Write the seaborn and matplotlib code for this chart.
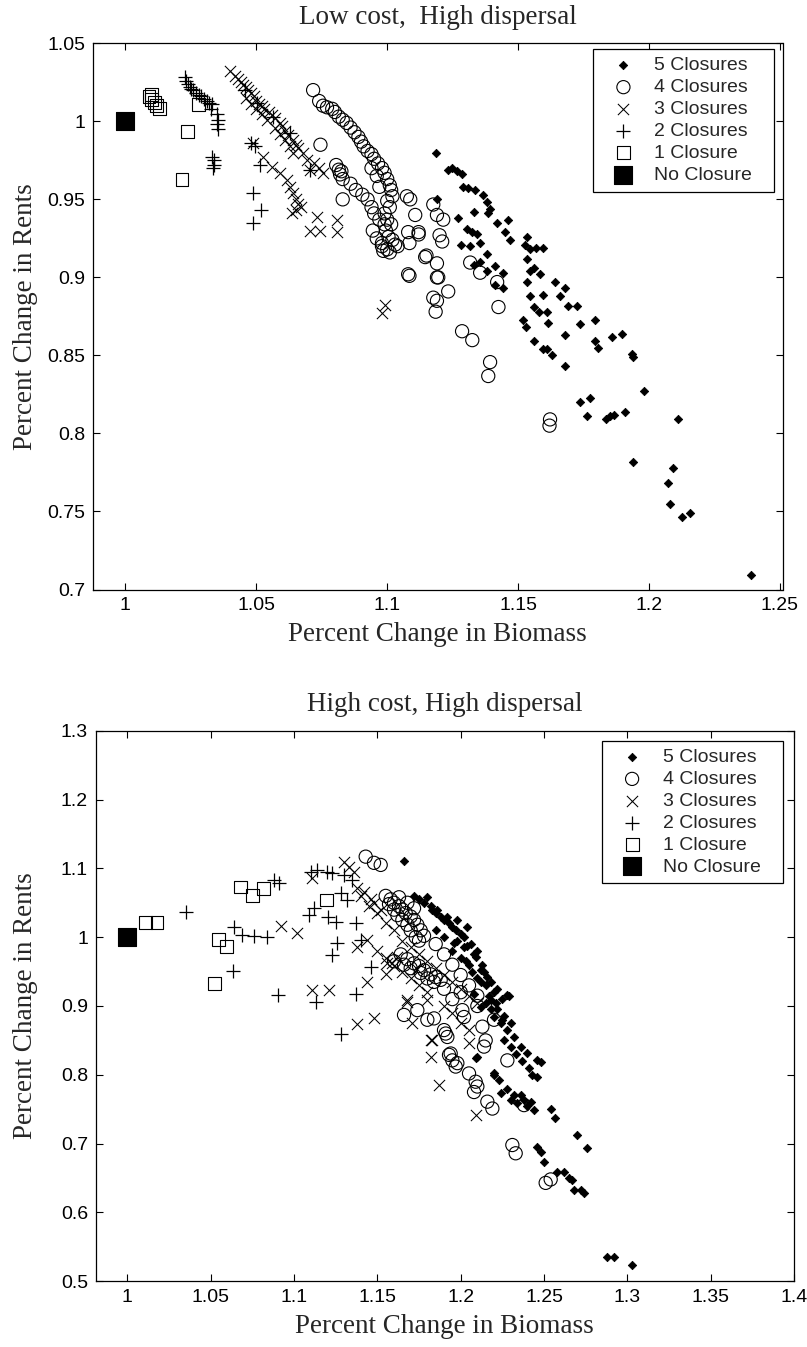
import matplotlib
matplotlib.use("Agg")
import matplotlib.pyplot as plt
import numpy as np
import pandas as pd
import seaborn as sns

# ---- top panel: Low cost, High dispersal (biomass, rents) ----
low_5 = [(1.1187, 0.980), (1.1233, 0.969), (1.119, 0.950), (1.1248, 0.970), (1.1268, 0.968),
         (1.1287, 0.966), (1.129, 0.958), (1.131, 0.957), (1.1336, 0.956), (1.1367, 0.953),
         (1.138, 0.948), (1.1393, 0.944), (1.1385, 0.941), (1.127, 0.938), (1.133, 0.942),
         (1.1305, 0.9307), (1.1325, 0.929), (1.1343, 0.9275), (1.128, 0.921), (1.142, 0.935),
         (1.146, 0.937), (1.145, 0.929), (1.147, 0.924), (1.1317, 0.920), (1.1355, 0.922),
         (1.138, 0.915), (1.141, 0.907), (1.133, 0.908), (1.1355, 0.910), (1.138, 0.904),
         (1.1443, 0.903), (1.141, 0.895), (1.1443, 0.893), (1.1535, 0.926), (1.1525, 0.921),
         (1.1545, 0.918), (1.157, 0.919), (1.1597, 0.919), (1.1535, 0.912), (1.1545, 0.904),
         (1.156, 0.906), (1.1585, 0.902), (1.1535, 0.897), (1.1547, 0.888), (1.1597, 0.889),
         (1.164, 0.897), (1.168, 0.893), (1.166, 0.888), (1.156, 0.881), (1.158, 0.878),
         (1.161, 0.878), (1.169, 0.8815), (1.1725, 0.8815), (1.152, 0.873), (1.153, 0.868),
         (1.156, 0.859), (1.1615, 0.871), (1.1737, 0.870), (1.1794, 0.873), (1.1597, 0.854),
         (1.161, 0.854), (1.163, 0.850), (1.168, 0.863), (1.168, 0.843), (1.1794, 0.859),
         (1.1805, 0.855), (1.186, 0.862), (1.1897, 0.864), (1.1936, 0.851), (1.194, 0.849),
         (1.1737, 0.820), (1.1775, 0.823), (1.1763, 0.811), (1.1837, 0.809), (1.185, 0.811),
         (1.1865, 0.812), (1.191, 0.814), (1.1982, 0.827), (1.211, 0.809), (1.194, 0.782),
         (1.209, 0.778), (1.2074, 0.768), (1.208, 0.755), (1.2126, 0.7467), (1.2157, 0.749),
         (1.239, 0.709)]
low_4 = [(1.0717, 1.020), (1.074, 1.013), (1.0755, 1.010), (1.077, 1.009), (1.079, 1.008),
         (1.080, 1.006), (1.0815, 1.003), (1.083, 1.001), (1.0845, 0.999), (1.086, 0.996),
         (1.0875, 0.993), (1.089, 0.990), (1.090, 0.987), (1.091, 0.984), (1.0925, 0.981),
         (1.094, 0.979), (1.095, 0.976), (1.0965, 0.973), (1.098, 0.970), (1.099, 0.967),
         (1.100, 0.963), (1.101, 0.959), (1.1015, 0.956), (1.102, 0.952), (1.100, 0.949),
         (1.101, 0.945), (1.099, 0.941), (1.100, 0.937), (1.1015, 0.934), (1.0995, 0.930),
         (1.1005, 0.926), (1.098, 0.922), (1.100, 0.918), (1.096, 0.965), (1.094, 0.970),
         (1.097, 0.958), (1.0745, 0.985), (1.0805, 0.972), (1.0815, 0.969), (1.082, 0.966),
         (1.083, 0.963), (1.0825, 0.968), (1.083, 0.950), (1.086, 0.960), (1.088, 0.956),
         (1.0905, 0.953), (1.0925, 0.950), (1.094, 0.945), (1.095, 0.941), (1.097, 0.937),
         (1.099, 0.934), (1.0945, 0.930), (1.096, 0.925), (1.098, 0.920), (1.0985, 0.917),
         (1.101, 0.916), (1.103, 0.921), (1.1088, 0.950), (1.112, 0.929), (1.115, 0.914),
         (1.119, 0.909), (1.108, 0.902), (1.119, 0.900), (1.1075, 0.952), (1.1107, 0.940),
         (1.112, 0.9275), (1.108, 0.929), (1.1085, 0.922), (1.102, 0.924), (1.104, 0.920),
         (1.1176, 0.9467), (1.119, 0.940), (1.1214, 0.937), (1.120, 0.927), (1.121, 0.923),
         (1.1145, 0.913), (1.1085, 0.901), (1.1195, 0.900), (1.1233, 0.891), (1.1176, 0.887),
         (1.119, 0.885), (1.1185, 0.878), (1.1286, 0.8655), (1.1325, 0.8598), (1.1393, 0.8457),
         (1.1386, 0.8368), (1.1622, 0.809), (1.162, 0.805), (1.1317, 0.9095), (1.1355, 0.903),
         (1.142, 0.897), (1.1425, 0.881)]
low_3 = [(1.040, 1.032), (1.042, 1.029), (1.043, 1.027), (1.044, 1.025), (1.045, 1.023),
         (1.046, 1.022), (1.047, 1.020), (1.048, 1.018), (1.049, 1.016), (1.050, 1.013),
         (1.051, 1.011), (1.052, 1.010), (1.053, 1.008), (1.055, 1.006), (1.056, 1.004),
         (1.057, 1.002), (1.059, 0.999), (1.060, 0.997), (1.061, 0.994), (1.062, 0.991),
         (1.064, 0.988), (1.065, 0.985), (1.066, 0.983), (1.068, 0.980), (1.0695, 0.975),
         (1.0706, 0.969), (1.072, 0.973), (1.074, 0.970), (1.046, 1.015), (1.048, 1.011),
         (1.050, 1.008), (1.052, 1.005), (1.054, 1.001), (1.057, 0.996), (1.059, 0.992),
         (1.061, 0.988), (1.063, 0.984), (1.064, 0.980), (1.0488, 0.986), (1.0527, 0.977),
         (1.056, 0.971), (1.059, 0.967), (1.0618, 0.9626), (1.063, 0.958), (1.064, 0.954),
         (1.065, 0.950), (1.066, 0.947), (1.067, 0.945), (1.065, 0.943), (1.0635, 0.941),
         (1.073, 0.939), (1.0706, 0.930), (1.0744, 0.930), (1.081, 0.937), (1.081, 0.929),
         (1.0755, 0.967), (1.098, 0.877), (1.099, 0.882)]
low_2 = [(1.0228, 1.0285), (1.0232, 1.026), (1.024, 1.024), (1.0245, 1.022), (1.025, 1.021),
         (1.026, 1.020), (1.027, 1.018), (1.028, 1.017), (1.029, 1.016), (1.030, 1.014),
         (1.031, 1.013), (1.032, 1.012), (1.033, 1.011), (1.0325, 1.008), (1.035, 1.005),
         (1.0355, 1.001), (1.035, 0.998), (1.0355, 0.995), (1.033, 0.977), (1.034, 0.975),
         (1.034, 0.972), (1.0335, 0.970), (1.048, 0.986), (1.0495, 0.984), (1.0515, 0.972),
         (1.0488, 0.954), (1.0517, 0.9435), (1.0488, 0.935), (1.0458, 1.020), (1.0503, 1.0118),
         (1.0565, 1.003), (1.063, 0.9926), (1.0706, 0.969)]
low_1 = [(1.009, 1.016), (1.010, 1.014), (1.011, 1.012), (1.012, 1.010), (1.013, 1.008),
         (1.010, 1.017), (1.028, 1.011), (1.0236, 0.9935), (1.0216, 0.9627)]
low_0 = [(1.0, 1.0)]

# ---- bottom panel: High cost, High dispersal ----
high_5 = [(1.166, 1.111), (1.180, 1.058), (1.178, 1.050), (1.182, 1.045), (1.186, 1.039),
          (1.185, 1.035), (1.192, 1.030), (1.190, 1.025), (1.198, 1.025), (1.195, 1.015),
          (1.204, 1.015), (1.200, 1.005), (1.190, 1.000), (1.185, 1.010), (1.196, 0.991),
          (1.204, 0.987), (1.195, 0.980), (1.200, 0.970), (1.209, 0.971), (1.205, 0.960),
          (1.212, 0.952), (1.214, 0.950), (1.210, 0.940), (1.216, 0.942), (1.215, 0.930),
          (1.220, 0.920), (1.228, 0.916), (1.229, 0.914), (1.215, 0.905), (1.212, 0.899),
          (1.218, 0.909), (1.222, 0.895), (1.220, 0.884), (1.226, 0.885), (1.224, 0.875),
          (1.230, 0.875), (1.228, 0.865), (1.232, 0.855), (1.236, 0.841), (1.240, 0.831),
          (1.246, 0.822), (1.248, 0.818), (1.246, 0.797), (1.209, 0.824), (1.220, 0.802),
          (1.223, 0.792), (1.224, 0.773), (1.230, 0.763), (1.234, 0.759), (1.238, 0.763),
          (1.240, 0.754), (1.244, 0.749), (1.254, 0.751), (1.2565, 0.737), (1.270, 0.713),
          (1.276, 0.693), (1.246, 0.695), (1.248, 0.688), (1.250, 0.674), (1.258, 0.659),
          (1.262, 0.659), (1.265, 0.650), (1.267, 0.647), (1.268, 0.633), (1.272, 0.633),
          (1.274, 0.628), (1.288, 0.536), (1.292, 0.536), (1.303, 0.524), (1.210, 0.826),
          (1.220, 0.800), (1.208, 0.918), (1.218, 0.895), (1.225, 0.880), (1.172, 1.060),
          (1.175, 1.055), (1.183, 1.040), (1.188, 1.030), (1.193, 1.020), (1.197, 1.010),
          (1.202, 1.000), (1.206, 0.990), (1.210, 0.980), (1.213, 0.960), (1.218, 0.935),
          (1.222, 0.925), (1.225, 0.910), (1.203, 0.965), (1.207, 0.950), (1.212, 0.935),
          (1.226, 0.850), (1.230, 0.840), (1.233, 0.830), (1.237, 0.820), (1.241, 0.810),
          (1.243, 0.800), (1.228, 0.780), (1.232, 0.770), (1.236, 0.770), (1.242, 0.760),
          (1.198, 0.995), (1.202, 0.985), (1.208, 0.975), (1.217, 0.915), (1.221, 0.905)]
high_4 = [(1.143, 1.117), (1.148, 1.108), (1.152, 1.105), (1.155, 1.060), (1.158, 1.055),
          (1.160, 1.050), (1.163, 1.045), (1.165, 1.040), (1.167, 1.035), (1.170, 1.030),
          (1.172, 1.025), (1.174, 1.018), (1.176, 1.010), (1.178, 1.002), (1.160, 1.040),
          (1.162, 1.032), (1.165, 1.025), (1.168, 1.018), (1.170, 1.010), (1.173, 1.000),
          (1.175, 0.995), (1.157, 1.048), (1.163, 1.058), (1.168, 1.050), (1.172, 1.042),
          (1.164, 0.975), (1.168, 0.968), (1.172, 0.962), (1.175, 0.958), (1.178, 0.952),
          (1.182, 0.946), (1.185, 0.942), (1.188, 0.938), (1.170, 0.955), (1.176, 0.948),
          (1.180, 0.940), (1.184, 0.935), (1.160, 0.965), (1.166, 0.960), (1.185, 0.990),
          (1.190, 0.975), (1.195, 0.960), (1.200, 0.945), (1.205, 0.930), (1.210, 0.915),
          (1.200, 0.920), (1.210, 0.900), (1.220, 0.880), (1.190, 0.925), (1.195, 0.910),
          (1.166, 0.887), (1.174, 0.894), (1.180, 0.880), (1.184, 0.882), (1.190, 0.865),
          (1.192, 0.855), (1.194, 0.831), (1.198, 0.817), (1.191, 0.860), (1.193, 0.829),
          (1.195, 0.821), (1.197, 0.812), (1.205, 0.802), (1.209, 0.790), (1.208, 0.775),
          (1.210, 0.783), (1.216, 0.761), (1.219, 0.751), (1.231, 0.698), (1.233, 0.686),
          (1.251, 0.643), (1.254, 0.648), (1.202, 0.884), (1.201, 0.894), (1.213, 0.870),
          (1.215, 0.850), (1.214, 0.841), (1.228, 0.821), (1.238, 0.756)]
high_3 = [(1.0919, 1.016), (1.1019, 1.0063), (1.111, 0.923), (1.121, 0.923), (1.138, 0.874),
          (1.148, 0.883), (1.111, 1.0853), (1.130, 1.109), (1.133, 1.102), (1.136, 1.095),
          (1.138, 1.071), (1.138, 0.986), (1.144, 0.996), (1.144, 0.935), (1.155, 0.947),
          (1.159, 0.962), (1.168, 0.906), (1.171, 0.875), (1.182, 0.850), (1.182, 0.826),
          (1.205, 0.846), (1.183, 0.850), (1.187, 0.785), (1.209, 0.741), (1.168, 0.909),
          (1.156, 0.962), (1.162, 0.971), (1.174, 0.954), (1.180, 0.909), (1.140, 1.060),
          (1.145, 1.045), (1.150, 1.035), (1.155, 1.020), (1.160, 1.010), (1.165, 0.995),
          (1.170, 0.985), (1.175, 0.975), (1.180, 0.965), (1.185, 0.955), (1.190, 0.945),
          (1.195, 0.935), (1.200, 0.925), (1.205, 0.915), (1.210, 0.905), (1.150, 0.980),
          (1.155, 0.970), (1.160, 0.958), (1.165, 0.950), (1.170, 0.940), (1.175, 0.930),
          (1.180, 0.920), (1.190, 0.900), (1.195, 0.890), (1.200, 0.875), (1.205, 0.865),
          (1.142, 1.065), (1.146, 1.055), (1.148, 1.050), (1.152, 1.040)]
high_2 = [(1.0352, 1.0368), (1.0639, 1.015), (1.0689, 1.003), (1.0759, 1.0015), (1.0839, 1.0005),
          (1.0635, 0.951), (1.0905, 0.916), (1.0879, 1.083), (1.0909, 1.078), (1.110, 1.095),
          (1.114, 1.097), (1.120, 1.095), (1.123, 1.093), (1.130, 1.090), (1.135, 1.083),
          (1.1089, 1.032), (1.1122, 1.042), (1.1203, 1.0296), (1.1249, 1.0223), (1.126, 0.991),
          (1.123, 0.974), (1.137, 1.020), (1.146, 0.957), (1.137, 0.918), (1.113, 0.906),
          (1.128, 0.860), (1.140, 0.996), (1.128, 1.0636), (1.132, 1.054)]
high_1 = [(1.0108, 1.021), (1.0178, 1.021), (1.0679, 1.073), (1.0749, 1.061), (1.0815, 1.071),
          (1.0548, 0.9966), (1.0595, 0.986), (1.0524, 0.933), (1.1195, 1.054)]
high_0 = [(1.0, 1.0)]

labels = ["5 Closures", "4 Closures", "3 Closures", "2 Closures", "1 Closure", "No Closure"]

marker_styles = [
    dict(marker="D", s=18, color="black", edgecolor="black", linewidth=0.6),
    dict(marker="o", s=90, facecolor="none", edgecolor="black", linewidth=0.8),
    dict(marker="x", s=65, color="black", linewidth=0.75),
    dict(marker="+", s=95, color="black", linewidth=0.9),
    dict(marker="s", s=85, facecolor="none", edgecolor="black", linewidth=0.8),
    dict(marker="s", s=165, color="black", edgecolor="black", linewidth=0.8),
]

sns.set_style("ticks")
plt.rcParams["font.family"] = ["Liberation Sans", "DejaVu Sans"]
serif = ["Liberation Serif", "DejaVu Serif"]

W, H = 807, 1347
fig = plt.figure(figsize=(W / 100, H / 100), dpi=100)


def draw_panel(rect, series, title, xlim, ylim, xticks, yticks, legend_box, ylab_x, xlab_y):
    ax = fig.add_axes(rect)
    for pts, lab, style in zip(series, labels, marker_styles):
        df = pd.DataFrame(pts, columns=["biomass", "rents"])
        sns.scatterplot(data=df, x="biomass", y="rents", ax=ax, label=lab, legend=False, **style)
    ax.set_xlim(*xlim)
    ax.set_ylim(*ylim)
    ax.set_xticks(xticks)
    ax.set_yticks(yticks)
    ax.set_xticklabels([f"{t:g}" for t in xticks])
    ax.set_yticklabels([f"{t:g}" for t in yticks])
    ax.tick_params(direction="in", length=5, width=0.8, top=True, right=True,
                   labelsize=14, pad=5.5, colors="black")
    for sp in ax.spines.values():
        sp.set_visible(True)
        sp.set_linewidth(0.9)
        sp.set_color("black")
    ax.set_title(title, family=serif, fontsize=19.5, pad=14)
    ax.set_xlabel("Percent Change in Biomass", family=serif, fontsize=19.5)
    ax.set_ylabel("Percent Change in Rents", family=serif, fontsize=19.5)
    ax.xaxis.set_label_coords(0.5, xlab_y)
    ax.yaxis.set_label_coords(ylab_x, 0.5)
    handles, labs = ax.get_legend_handles_labels()
    leg = ax.legend(handles, labs, loc="upper left", bbox_to_anchor=legend_box, mode="expand",
                    borderaxespad=0, fontsize=14, borderpad=0.4, handlelength=2.3,
                    handletextpad=0.42, labelspacing=0.22, scatterpoints=1,
                    fancybox=False, framealpha=1, edgecolor="black")
    leg.get_frame().set_linewidth(0.9)
    return ax


def px_rect(left, right, top, bottom):
    return [left / W, 1 - bottom / H, (right - left) / W, (bottom - top) / H]


top_rect = px_rect(92.7, 782.5, 43.3, 589.5)
bot_rect = px_rect(95.7, 794.0, 730.7, 1281.3)

draw_panel(top_rect, [low_5, low_4, low_3, low_2, low_1, low_0], "Low cost,  High dispersal",
           (0.9875, 1.251), (0.7, 1.05), np.round(np.arange(1.0, 1.2501, 0.05), 2),
           np.round(np.arange(0.7, 1.0501, 0.05), 2),
           (0.7257, 0.9896, 0.2624, 0.0), -0.0796, -0.0604)
draw_panel(bot_rect, [high_5, high_4, high_3, high_2, high_1, high_0], "High cost, High dispersal",
           (0.981, 1.4), (0.5, 1.3), np.round(np.arange(1.0, 1.4001, 0.05), 2),
           np.round(np.arange(0.5, 1.3001, 0.1), 1),
           (0.7250, 0.9818, 0.2592, 0.0), -0.0829, -0.0589)

fig.savefig("out.png", dpi=100, facecolor="white")
